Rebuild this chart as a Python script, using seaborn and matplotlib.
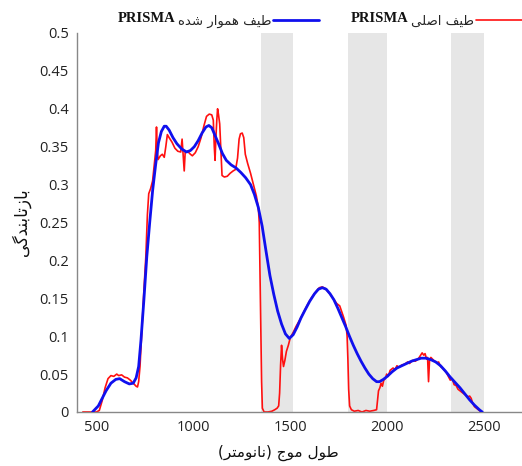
import numpy as np
import pandas as pd
import matplotlib
matplotlib.use('Agg')
import matplotlib.pyplot as plt
import seaborn as sns
from matplotlib.ticker import FuncFormatter

# Original PRISMA spectrum (red)
orig_wl = [430, 500, 515, 530, 545, 560, 575, 590, 605, 615, 630, 645, 660, 675, 690, 705, 712, 718,
           725, 735, 745, 755, 763, 770, 780, 790, 800, 806, 810, 814, 818, 830, 840, 850, 858, 866,
           875, 890, 905, 920, 935, 942, 947, 953, 958, 970, 985, 995, 1010, 1025, 1040, 1055, 1068,
           1082, 1095, 1103, 1108, 1112, 1116, 1121, 1125, 1130, 1136, 1142, 1148, 1160, 1175, 1190,
           1205, 1218, 1228, 1236, 1243, 1252, 1260, 1268, 1280, 1295, 1310, 1325, 1335, 1340, 1344,
           1348, 1352, 1356, 1365, 1385, 1405, 1420, 1432, 1440, 1445, 1450, 1455, 1460, 1465, 1472,
           1480, 1490, 1500, 1515, 1530, 1550, 1570, 1590, 1610, 1630, 1650, 1665, 1680, 1700, 1720,
           1740, 1755, 1775, 1788, 1793, 1797, 1801, 1806, 1815, 1830, 1850, 1870, 1890, 1910, 1930,
           1945, 1950, 1955, 1962, 1968, 1975, 1982, 1990, 1997, 2005, 2015, 2030, 2040, 2050, 2060,
           2075, 2090, 2105, 2115, 2130, 2145, 2160, 2170, 2180, 2188, 2195, 2203, 2208, 2213, 2218,
           2225, 2240, 2255, 2265, 2275, 2285, 2295, 2305, 2315, 2325, 2335, 2345, 2355, 2365, 2375,
           2385, 2395, 2405, 2415, 2425, 2433, 2440, 2450, 2465, 2480, 2490]
orig_refl = [0.0, 0.0, 0.002, 0.015, 0.032, 0.044, 0.048, 0.047, 0.050, 0.048, 0.049, 0.046, 0.045,
             0.042, 0.038, 0.034, 0.033, 0.040, 0.060, 0.110, 0.160, 0.205, 0.260, 0.288, 0.295,
             0.305, 0.330, 0.345, 0.376, 0.345, 0.333, 0.338, 0.340, 0.336, 0.350, 0.366, 0.362,
             0.356, 0.348, 0.344, 0.343, 0.360, 0.340, 0.318, 0.343, 0.344, 0.340, 0.338, 0.342,
             0.350, 0.362, 0.378, 0.390, 0.393, 0.392, 0.385, 0.350, 0.332, 0.360, 0.385, 0.400,
             0.392, 0.380, 0.345, 0.312, 0.310, 0.311, 0.315, 0.318, 0.320, 0.335, 0.360, 0.367,
             0.368, 0.362, 0.340, 0.328, 0.315, 0.300, 0.285, 0.270, 0.250, 0.180, 0.110, 0.040,
             0.005, 0.000, 0.000, 0.001, 0.003, 0.005, 0.008, 0.025, 0.062, 0.088, 0.070, 0.060,
             0.068, 0.080, 0.088, 0.098, 0.105, 0.113, 0.122, 0.132, 0.142, 0.151, 0.158, 0.164,
             0.165, 0.163, 0.157, 0.150, 0.143, 0.140, 0.125, 0.114, 0.100, 0.070, 0.030, 0.008,
             0.003, 0.001, 0.002, 0.000, 0.002, 0.001, 0.002, 0.003, 0.015, 0.028, 0.032, 0.038,
             0.034, 0.042, 0.044, 0.050, 0.047, 0.055, 0.058, 0.056, 0.061, 0.059, 0.062, 0.063,
             0.066, 0.064, 0.068, 0.067, 0.070, 0.074, 0.078, 0.075, 0.077, 0.070, 0.072, 0.040,
             0.068, 0.072, 0.068, 0.065, 0.066, 0.060, 0.058, 0.055, 0.052, 0.047, 0.042, 0.044,
             0.036, 0.035, 0.030, 0.028, 0.026, 0.024, 0.022, 0.020, 0.021, 0.018, 0.012, 0.007,
             0.004, 0.001, 0.000]

# Smoothed PRISMA spectrum (blue)
smooth_wl = [480, 510, 530, 550, 575, 600, 620, 645, 670, 690, 705, 718, 730, 745, 760, 775, 790,
             805, 820, 835, 850, 860, 875, 895, 915, 940, 965, 985, 1005, 1025, 1045, 1065, 1080,
             1095, 1110, 1130, 1150, 1170, 1195, 1220, 1245, 1270, 1295, 1315, 1335, 1355, 1375,
             1395, 1415, 1435, 1455, 1475, 1495, 1515, 1535, 1555, 1575, 1600, 1625, 1645, 1665,
             1685, 1705, 1725, 1745, 1765, 1785, 1805, 1825, 1845, 1865, 1885, 1905, 1925, 1945,
             1960, 1980, 2000, 2025, 2050, 2075, 2100, 2125, 2150, 2175, 2200, 2225, 2250, 2275,
             2300, 2325, 2350, 2375, 2400, 2425, 2450, 2475, 2490]
smooth_refl = [0.0, 0.008, 0.018, 0.028, 0.038, 0.043, 0.044, 0.040, 0.037, 0.038, 0.045, 0.060,
               0.095, 0.148, 0.205, 0.250, 0.292, 0.325, 0.355, 0.370, 0.377, 0.377, 0.372, 0.362,
               0.354, 0.347, 0.343, 0.345, 0.350, 0.358, 0.368, 0.376, 0.378, 0.375, 0.366, 0.354,
               0.341, 0.332, 0.326, 0.322, 0.316, 0.309, 0.300, 0.287, 0.270, 0.245, 0.212, 0.180,
               0.155, 0.133, 0.116, 0.103, 0.097, 0.102, 0.112, 0.124, 0.134, 0.146, 0.156, 0.162,
               0.164, 0.162, 0.156, 0.148, 0.137, 0.125, 0.113, 0.100, 0.088, 0.077, 0.067, 0.058,
               0.050, 0.044, 0.040, 0.040, 0.043, 0.047, 0.053, 0.058, 0.061, 0.064, 0.067, 0.069,
               0.071, 0.071, 0.069, 0.066, 0.061, 0.054, 0.046, 0.039, 0.032, 0.024, 0.016, 0.009,
               0.003, 0.0]

# Water absorption bands (shaded)
band_starts = [1350, 1800, 2330]
band_ends = [1515, 2000, 2500]

x_ticks = [500, 1000, 1500, 2000, 2500]
y_ticks = [0, 0.05, 0.1, 0.15, 0.2, 0.25, 0.3, 0.35, 0.4, 0.45, 0.5]

sensor = 'PRISMA'
label_orig = 'طیف اصلی'
label_smooth = 'طیف هموار شده'

# --- minimal Persian shaping (matplotlib has no RTL layout) ---
FORMS = {
    'ا': ('\uFE8D', '\uFE8E', None, None),
    'ب': ('\uFE8F', '\uFE90', '\uFE91', '\uFE92'),
    'ت': ('\uFE95', '\uFE96', '\uFE97', '\uFE98'),
    'ج': ('\uFE9D', '\uFE9E', '\uFE9F', '\uFEA0'),
    'د': ('\uFEA9', '\uFEAA', None, None),
    'ر': ('\uFEAD', '\uFEAE', None, None),
    'ز': ('\uFEAF', '\uFEB0', None, None),
    'ش': ('\uFEB5', '\uFEB6', '\uFEB7', '\uFEB8'),
    'ص': ('\uFEB9', '\uFEBA', '\uFEBB', '\uFEBC'),
    'ط': ('\uFEC1', '\uFEC2', '\uFEC3', '\uFEC4'),
    'ف': ('\uFED1', '\uFED2', '\uFED3', '\uFED4'),
    'ل': ('\uFEDD', '\uFEDE', '\uFEDF', '\uFEE0'),
    'م': ('\uFEE1', '\uFEE2', '\uFEE3', '\uFEE4'),
    'ن': ('\uFEE5', '\uFEE6', '\uFEE7', '\uFEE8'),
    'ه': ('\uFEE9', '\uFEEA', '\uFEEB', '\uFEEC'),
    'و': ('\uFEED', '\uFEEE', None, None),
    'گ': ('\uFB92', '\uFB93', '\uFB94', '\uFB95'),
    'ی': ('\uFBFC', '\uFBFD', '\uFBFE', '\uFBFF'),
}


def rtl(text):
    out = []
    for i, c in enumerate(text):
        if c not in FORMS:
            out.append(c)
            continue
        prev = text[i - 1] if i > 0 else ''
        nxt = text[i + 1] if i + 1 < len(text) else ''
        jp = prev in FORMS and FORMS[prev][2] is not None
        jn = nxt in FORMS and FORMS[c][2] is not None
        iso, fin, ini, med = FORMS[c]
        out.append(med if (jp and jn) else fin if jp else ini if jn else iso)
    mirror = {'(': ')', ')': '('}
    return ''.join(mirror.get(c, c) for c in reversed(out))


sns.set_theme(style='white')
plt.rcParams['font.family'] = ['Open Sans', 'DejaVu Sans']

fig = plt.figure(figsize=(5.22, 4.66), dpi=100)
ax = fig.add_axes([0.1475, 0.1159, 0.8525, 0.8133])

for s, e in zip(band_starts, band_ends):
    ax.axvspan(s, e, color='#e6e6e6', lw=0, zorder=0)

orig = pd.DataFrame({'wl': orig_wl, 'refl': orig_refl})
smooth = pd.DataFrame({'wl': smooth_wl, 'refl': smooth_refl})
sns.lineplot(data=orig, x='wl', y='refl', ax=ax, color='#ff1010', lw=1.2,
             label=rtl(label_orig), zorder=2)
sns.lineplot(data=smooth, x='wl', y='refl', ax=ax, color='#1010ee', lw=2.0,
             label=rtl(label_smooth), zorder=3)

ax.set_xlim(400, 2695)
ax.set_ylim(0, 0.5)
ax.set_xticks(x_ticks)
ax.set_yticks(y_ticks)
ax.yaxis.set_major_formatter(FuncFormatter(lambda v, p: '%g' % v))
ax.tick_params(axis='both', direction='in', length=4, width=1, color='#888888',
               labelsize=10.5, labelcolor='#222222', pad=6)
for side in ['top', 'right']:
    ax.spines[side].set_visible(False)
for side in ['left', 'bottom']:
    ax.spines[side].set_color('#888888')
    ax.spines[side].set_linewidth(1)

ax.set_xlabel(rtl('طول موج (نانومتر)'), fontsize=11, family=['DejaVu Sans'], x=0.452,
              labelpad=7, color='#111111')
ax.set_ylabel(rtl('بازتابندگی'), fontsize=12, family=['DejaVu Sans'], labelpad=6,
              color='#111111')

# legend: RTL entries (line on the right of the text), sensor name in bold serif
handles, labels = ax.get_legend_handles_labels()
ax.get_legend().remove()
leg = fig.legend(handles[::-1], labels[::-1], loc='upper right', bbox_to_anchor=(1.018, 0.989),
                 ncol=2, frameon=False, markerfirst=False, handlelength=3.5,
                 columnspacing=6.95, handletextpad=0.15, borderaxespad=0.3,
                 prop={'family': ['DejaVu Sans'], 'size': 9.5})

fig.canvas.draw()
inv = fig.transFigure.inverted()
for t in leg.get_texts():
    bb = t.get_window_extent()
    x0, y0 = inv.transform((bb.x0, bb.y0))
    fig.text(x0 - 0.004, y0 + 0.006, sensor, ha='right', va='bottom',
             family=['Liberation Serif'], weight='bold', fontsize=10.5, color='#111111')

fig.savefig('out.png', dpi=100)
